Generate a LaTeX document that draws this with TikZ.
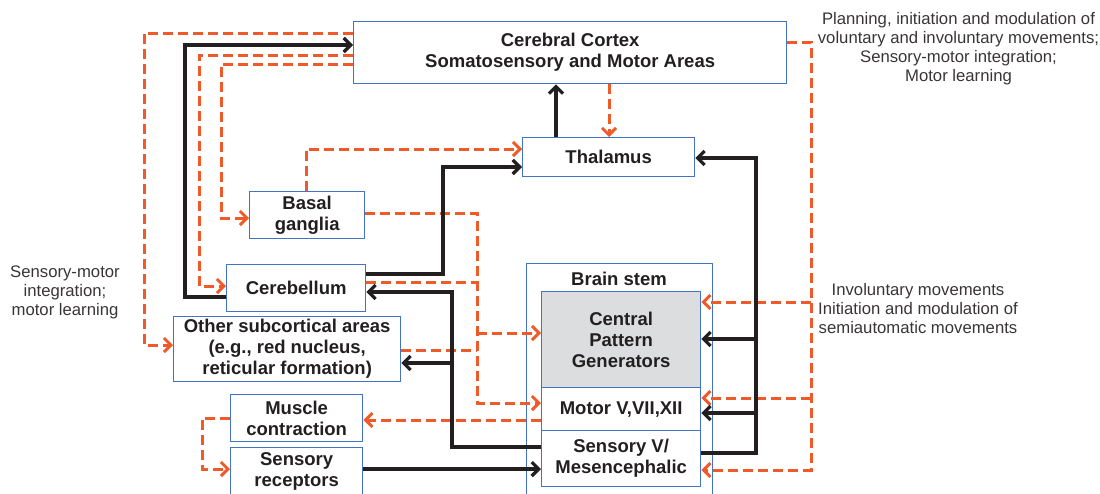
\documentclass[tikz,border=0pt]{standalone}
\usepackage{fontspec}
\setmainfont{Liberation Sans}
\usetikzlibrary{arrows.meta}
\definecolor{rd}{RGB}{240,90,40}
\definecolor{bl}{RGB}{68,114,196}
\definecolor{ink}{RGB}{35,31,32}
\definecolor{cpgfill}{RGB}{220,221,222}
\begin{document}
\begin{tikzpicture}[x=1pt,y=-1pt,
  box/.style={draw=bl, line width=1.3pt, text=ink, font=\fontsize{18.5}{21}\selectfont\bfseries, align=center, inner sep=0pt, anchor=north west},
  btitle/.style={text=ink, font=\fontsize{18.5}{21}\selectfont\bfseries, inner sep=0pt},
  note/.style={text=ink!90, font=\fontsize{16.7}{19}\selectfont, align=center, inner sep=0pt},
  rdl/.style={draw=rd, line width=3pt, dash pattern=on 10pt off 5pt},
  rda/.style={rdl, -{Straight Barb[length=7pt,width=14pt]}},
  bkl/.style={draw=ink, line width=3.2pt, line join=miter},
  bka/.style={bkl, -{Straight Barb[length=7pt,width=14pt]}},
]
\useasboundingbox (0,0) rectangle (1100,493);
\clip (0,0) rectangle (1100,493);

% boxes
\node[box, minimum width=433, minimum height=62] (cortex) at (353,21) {Cerebral Cortex\\Somatosensory and Motor Areas};
\node[box, minimum width=172, minimum height=39] (thal) at (522,137) {Thalamus};
\node[box, minimum width=115, minimum height=47] (basal) at (249,191) {Basal\\ganglia};
\node[box, minimum width=139, minimum height=47] (cereb) at (226,264) {Cerebellum};
\node[box, minimum width=227, minimum height=65] (other) at (173,316) {Other subcortical areas\\(e.g., red nucleus,\\reticular formation)};
\node[box, minimum width=132, minimum height=47] (muscle) at (230,394) {Muscle\\contraction};
\node[box, minimum width=132, minimum height=47] (recep) at (230,447) {Sensory\\receptors};
\node[box, minimum width=186, minimum height=245] (bstem) at (526,263) {};
\node[btitle] (bstitle) at (619,279) {Brain stem};
\node[box, fill=cpgfill, minimum width=159, minimum height=96] (cpg) at (541,291) {Central\\Pattern\\Generators};
\node[box, minimum width=159, minimum height=43] (motor) at (541,387) {Motor V,VII,XII};
\node[box, minimum width=159, minimum height=56] (sens) at (541,430) {Sensory V/\\Mesencephalic};

% notes
\node[note] (n1) at (958.5,48.5) {Planning, initiation and modulation of\\voluntary and involuntary movements;\\Sensory-motor integration;\\Motor learning};
\node[note] (n2) at (918,309) {Involuntary movements\\Initiation and modulation of\\semiautomatic movements};
\node[note] (n3) at (65,292) {Sensory-motor\\integration;\\motor learning};

% junction coordinates
\coordinate (jH) at (477,282);
\coordinate (jI) at (477,333);
\coordinate (jJ) at (477,350);
\coordinate (jL) at (452,363);
\coordinate (jQ) at (756,339);
\coordinate (jR) at (756,413);
\coordinate (jT) at (811,302);
\coordinate (jU) at (811,398);

% red dashed connectors
\draw[rda] (cortex.west |- 0,33) -| (144,345) -- (other.west |- 0,345);
\draw[rda] (cortex.west |- 0,55) -| (199,286) -- (cereb.west |- 0,286);
\draw[rda] (cortex.west |- 0,64) -| (221,218) -- (basal.west |- 0,218);
\draw[rda] (basal.north -| 306,0) |- (thal.west |- 0,149);
\draw[rda] (basal.east |- 0,213) -| (477,403) -- (motor.west |- 0,403);
\draw[rdl] (cereb.east |- jH) -- (jH);
\draw[rda] (jI) -- (cpg.west |- jI);
\draw[rdl] (other.east |- jJ) -- (jJ);
\draw[rda] (motor.west |- 0,420) -- (muscle.east |- 0,420);
\draw[rda] (muscle.west |- 0,418) -| (202,469) -- (recep.west |- 0,469);
\draw[rda] (cortex.east |- 0,42) -| (811,470) -- (sens.east |- 0,470);
\draw[rda] (jT) -- (cpg.east |- jT);
\draw[rda] (jU) -- (motor.east |- jU);
\draw[rda] (cortex.south -| 609,0) -- (thal.north -| 609,0);

% black connectors
\draw[bka] (cereb.west |- 0,297) -| (185,45) -- (cortex.west |- 0,45);
\draw[bka] (cereb.east |- 0,274) -| (443,167) -- (thal.west |- 0,167);
\draw[bka] (sens.west |- 0,447) -| (452,292) -- (cereb.east |- 0,292);
\draw[bka] (jL) -- (other.east |- jL);
\draw[bka] (recep.east |- 0,469) -- (sens.west |- 0,469);
\draw[bka] (sens.east |- 0,453) -| (756,158) -- (thal.east |- 0,158);
\draw[bka] (jQ) -- (cpg.east |- jQ);
\draw[bka] (jR) -- (motor.east |- jR);
\draw[bka] (thal.north -| 556,0) -- (cortex.south -| 556,0);
\end{tikzpicture}
\end{document}
